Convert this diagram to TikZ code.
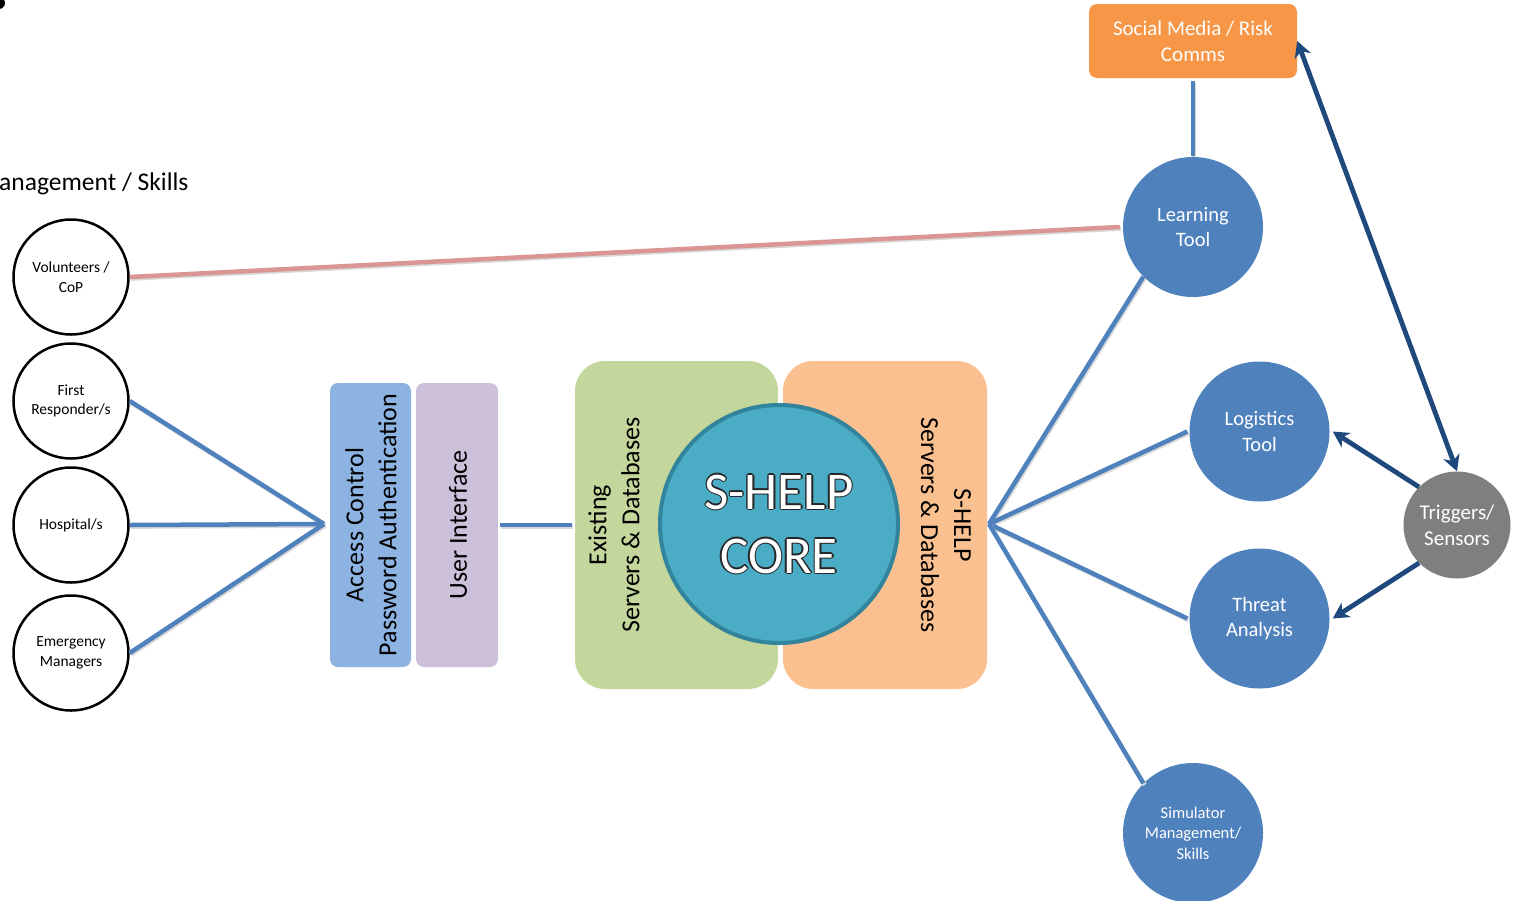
\documentclass[tikz,border=0pt]{standalone}
\usepackage{fontspec}
\setmainfont{Carlito}
\usetikzlibrary{arrows.meta}
\definecolor{lblue}{HTML}{4F81BD}
\definecolor{dblue}{HTML}{1F497D}
\definecolor{pinkl}{HTML}{D99694}
\definecolor{accblue}{HTML}{8DB3E2}
\definecolor{uipurp}{HTML}{CCC0DA}
\definecolor{greenb}{HTML}{C3D69B}
\definecolor{orangeb}{HTML}{FAC090}
\definecolor{corefill}{HTML}{4BACC6}
\definecolor{coreline}{HTML}{31849B}
\definecolor{socor}{HTML}{F79646}
\definecolor{trgray}{HTML}{7F7F7F}
\begin{document}
\begin{tikzpicture}[x=1pt,y=-1pt,
  pcirc/.style={circle, draw=black, fill=white, line width=2.5pt, minimum size=115pt, inner sep=0pt, align=center, font=\fontsize{15.5}{19.5}\selectfont},
  bcirc/.style={circle, fill=lblue, minimum size=140pt, inner sep=0pt, align=center, text=white, font=\fontsize{20.5}{25.5}\selectfont},
  boxr/.style={rounded corners=8pt, inner sep=0pt},
  rtext/.style={align=center, inner sep=0pt, font=\fontsize{26}{33}\selectfont},
  shad/.style={preaction={draw=black!15, line width=4.5pt, transform canvas={xshift=1.2pt,yshift=-1.6pt}}},
  conn/.style={draw=lblue, line width=4.5pt, shad},
  pconn/.style={draw=pinkl, line width=4.5pt, shad},
  tipst/.tip={Stealth[length=16pt,width=17pt,inset=5pt]},
  arr/.style={draw=dblue, line width=4.8pt, -tipst},
  darr/.style={draw=dblue, line width=4.8pt, tipst-tipst},
  coretxt/.style={align=center, inner sep=0pt, font=\fontsize{53}{64}\selectfont}
]
\useasboundingbox (0,0) rectangle (1514,900);

% top-left fragments
\fill[black] (-1,3) circle (6pt);
\node[anchor=base west, inner sep=0pt, font=\fontsize{25.5}{30}\selectfont] (titlefrag) at (-1,190) {anagement / Skills};

% left circles
\node[pcirc] (vol) at (71,277) {Volunteers /\\CoP};
\node[pcirc] (fr)  at (71,401) {First\\Responder/s};
\node[pcirc] (hos) at (71,525) {Hospital/s};
\node[pcirc] (em)  at (71,653) {Emergency\\Managers};

% access / UI boxes
\node[boxr, fill=accblue, minimum width=81pt, minimum height=284pt] (ac) at (370.5,525) {};
\node[rtext, rotate=90] (actext) at (371,525) {Access Control\\Password Authentication};
\node[boxr, fill=uipurp, minimum width=82pt, minimum height=284pt] (ui) at (457,525) {};
\node[rtext, rotate=90] (uitext) at (458,525) {User Interface};

% servers boxes
\node[fill=greenb, rounded corners=30pt, inner sep=0pt, minimum width=203pt, minimum height=328pt] (ex) at (676.5,525) {};
\node[rtext, rotate=90] (extext) at (614,525) {Existing\\Servers \& Databases};
\node[fill=orangeb, rounded corners=30pt, inner sep=0pt, minimum width=204pt, minimum height=328pt] (sh) at (885,525) {};
\node[rtext, rotate=-90] (shtext) at (946,525) {S-HELP\\Servers \& Databases};

% core
\node[circle, fill=corefill, draw=coreline, line width=4pt, minimum size=238pt, inner sep=0pt] (core) at (779,524) {};
\foreach \dx/\dy in {1.3/0,-1.3/0,0/1.3,0/-1.3,0.9/0.9,-0.9/0.9,0.9/-0.9,-0.9/-0.9}
  \node[coretxt, text=black!85] at ([shift={(\dx,\dy)}]core) {S-HELP\\CORE};
\node[coretxt, text=white] (coretext) at (core) {S-HELP\\CORE};

% right side nodes
\node[boxr, fill=socor, minimum width=208pt, minimum height=74pt, text=white, align=center, font=\fontsize{21}{26}\selectfont] (soc) at (1193,41) {Social Media / Risk\\Comms};
\node[bcirc] (lt) at (1193,227) {Learning\\Tool};
\node[bcirc] (logi) at (1259.5,431.5) {Logistics\\Tool};
\node[bcirc] (thr) at (1259.5,618.5) {Threat\\Analysis};
\node[bcirc, font=\fontsize{16.5}{20.5}\selectfont] (sim) at (1193,833) {Simulator\\Management/\\Skills};
\node[circle, fill=trgray, minimum size=107pt, inner sep=0pt, align=center, text=white, font=\fontsize{21}{26}\selectfont] (trig) at (1457,525) {Triggers/\\Sensors};

% hubs
\coordinate (hubL) at (324,524);
\coordinate (hubR) at (989,524);

% connectors (left)
\draw[pconn] (vol.east) -- ([xshift=-3pt]lt.west);
\draw[conn] (fr.east) -- (hubL);
\draw[conn] (hos.east) -- (hubL);
\draw[conn] (em.east) -- (hubL);
\draw[conn, shorten <=2pt, shorten >=3pt] (ui.east) -- (ex.west);

% connectors (right)
\draw[conn] (hubR) -- (lt.225);
\draw[conn] (hubR) -- ([xshift=-2pt]logi.west);
\draw[conn] (hubR) -- ([xshift=-2pt]thr.west);
\draw[conn] (hubR) -- (sim.135);
\draw[conn, shorten <=3pt, shorten >=1pt] (soc.south) -- (lt.north);

% arrows
\draw[darr] (soc.east) -- (trig.north);
\draw[arr] (trig.135) -- ([xshift=3pt]logi.east);
\draw[arr] (trig.225) -- ([xshift=3pt]thr.east);
\end{tikzpicture}
\end{document}
